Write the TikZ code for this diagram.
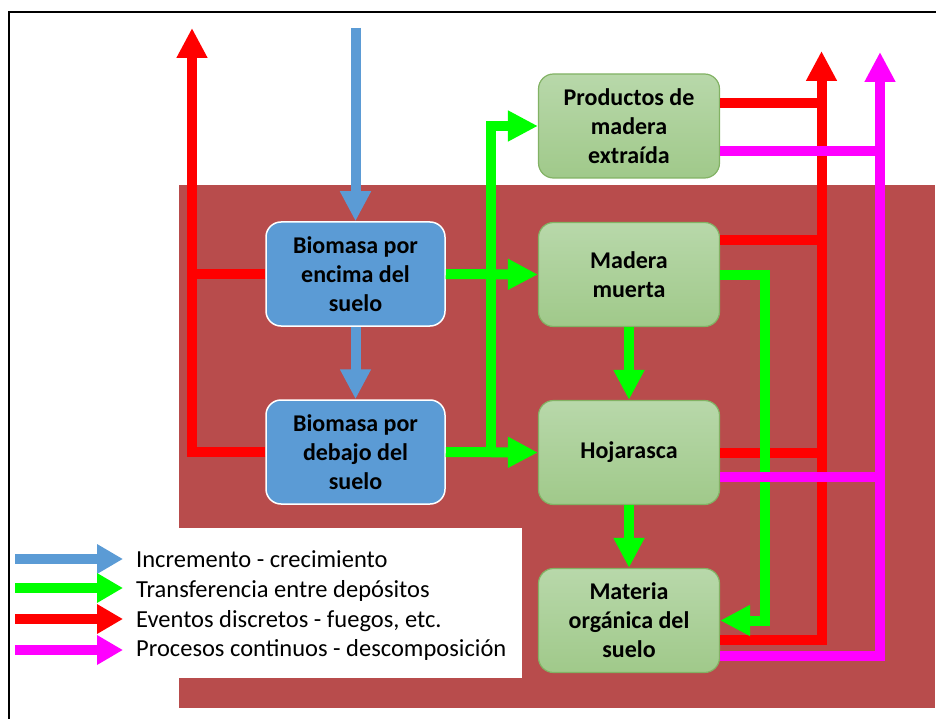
\documentclass[tikz,border=0pt]{standalone}
\usepackage{fontspec}
\setmainfont{Carlito}
\usetikzlibrary{arrows.meta,shadings}
\definecolor{bgred}{RGB}{184,76,76}
\definecolor{boxblue}{RGB}{91,155,213}
\definecolor{gtop}{RGB}{184,216,170}
\definecolor{gbot}{RGB}{160,201,138}
\definecolor{gborder}{RGB}{130,178,100}
\definecolor{flowred}{RGB}{255,0,0}
\definecolor{flowgreen}{RGB}{0,255,0}
\definecolor{flowmag}{RGB}{255,0,255}
\definecolor{flowblue}{RGB}{91,155,213}
\begin{document}
\begin{tikzpicture}[x=1pt,y=-1pt,
  flow/.style={line width=10pt},
  tipd/.style={-{Triangle[length=30pt,width=29pt]}},
  legtip/.style={line width=9.5pt,-{Triangle[length=26pt,width=28pt]}},
  boxtext/.style={font=\fontsize{24pt}{29pt}\selectfont\bfseries, align=center, text=black,
     minimum width=179pt, minimum height=104pt, inner sep=0pt, rounded corners=15pt},
  bluebox/.style={boxtext, fill=boxblue, draw=white, line width=1.5pt},
  greenbox/.style={boxtext, top color=gtop, bottom color=gbot, draw=gborder, line width=1.2pt, minimum width=181pt},
  legtext/.style={font=\fontsize{24.5pt}{29pt}\selectfont, anchor=base west, inner sep=0pt}
]
\useasboundingbox (0,0) rectangle (936,719);
% background
\fill[bgred] (179,185) rectangle (935,708);
\fill[white] (179,528) rectangle (522,678);
\draw[line width=1.5pt] (9,719) -- (9,12) -- (936,12);

% nodes
\node[bluebox] (b1) at (355.5,274) {Biomasa por\\encima del\\suelo};
\node[bluebox] (b2) at (355.5,452) {Biomasa por\\debajo del\\suelo};
\node[greenbox] (pm) at (629,126) {Productos de\\madera\\extraída};
\node[greenbox] (mm) at (629,274.5) {Madera\\muerta};
\node[greenbox] (hj) at (629,452.5) {Hojarasca};
\node[greenbox] (mo) at (629,620.5) {Materia\\orgánica del\\suelo};

% free ends
\coordinate (redL) at (192,28);
\coordinate (blueTop) at (355.5,28);
\coordinate (gJ) at (491,452);
\coordinate (redR) at (821.5,51);
\coordinate (magR) at (880,52);

% red flows
\draw[flow,flowred,tipd] (b2.west) -| (redL);
\draw[flow,flowred] (b1.west) -- (b1.west -| redL);
\draw[flow,flowred,tipd] ([yshift=-19.5pt]mo.east) -| (redR);
\draw[flow,flowred] ([yshift=23pt]pm.east) -- +(102.5,0);
\draw[flow,flowred] ([yshift=34.5pt]mm.east) -- +(102.5,0);
\draw[flow,flowred] (hj.east) -- +(102.5,0);

% green flows
\draw[flow,flowgreen,tipd] (b1.east) -- (mm.west);
\draw[flow,flowgreen,tipd] (b2.east) -- (hj.west);
\draw[flow,flowgreen,tipd] (gJ) |- (pm.west);
\draw[flow,flowgreen,tipd] (mm.south) -- (hj.north);
\draw[flow,flowgreen,tipd] (hj.south) -- (mo.north);
\draw[flow,flowgreen,tipd] (mm.east) -- +(45,0) |- (mo.east);

% blue flows
\draw[flow,flowblue,tipd] (blueTop) -- (b1.north);
\draw[flow,flowblue,tipd] (b1.south) -- (b2.north);

% magenta flows
\draw[flow,flowmag,tipd] ([yshift=-35pt]mo.east) -| (magR);
\draw[flow,flowmag] ([yshift=-25pt]pm.east) -- +(161,0);
\draw[flow,flowmag] ([yshift=-24pt]hj.east) -- +(161,0);

% legend
\coordinate (l1s) at (15,559); \coordinate (l1e) at (123,559);
\coordinate (l2s) at (15,588); \coordinate (l2e) at (123,588);
\coordinate (l3s) at (15,619); \coordinate (l3e) at (123,619);
\coordinate (l4s) at (15,650); \coordinate (l4e) at (123,650);
\draw[legtip,flowblue] (l1s) -- (l1e);
\draw[legtip,flowgreen] (l2s) -- (l2e);
\draw[legtip,flowred] (l3s) -- (l3e);
\draw[legtip,flowmag] (l4s) -- (l4e);
\node[legtext] (t1) at (136,567) {Incremento - crecimiento};
\node[legtext] (t2) at (136,597) {Transferencia entre depósitos};
\node[legtext] (t3) at (136,627) {Eventos discretos - fuegos, etc.};
\node[legtext] (t4) at (136,656) {Procesos continuos - descomposición};
\end{tikzpicture}
\end{document}
